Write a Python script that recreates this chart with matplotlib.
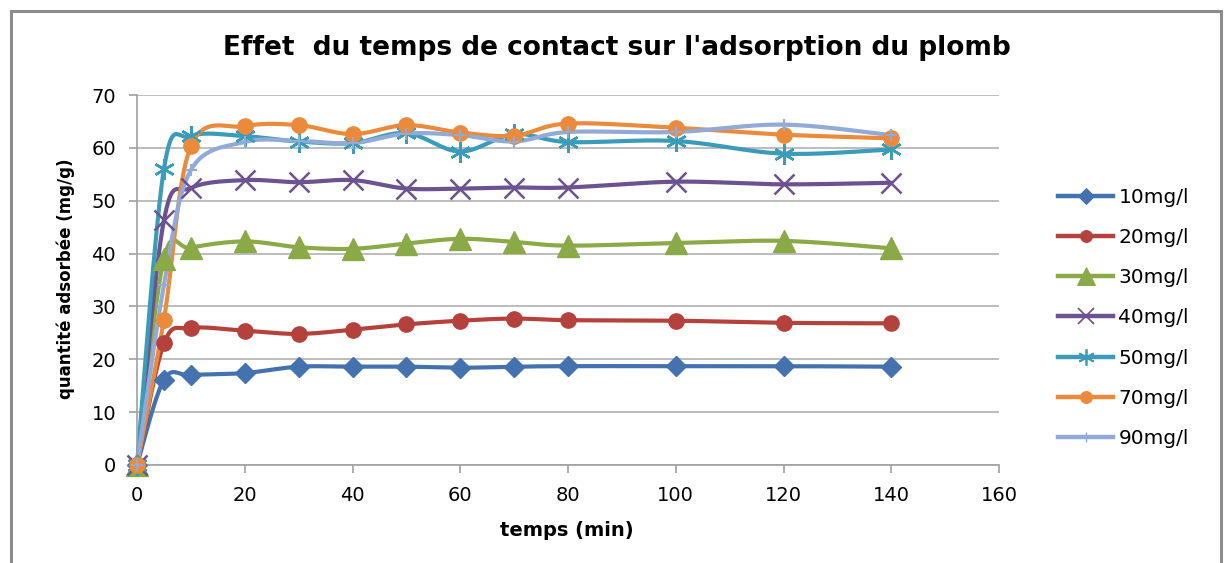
import numpy as np
import matplotlib
matplotlib.use("Agg")
import matplotlib.pyplot as plt
from matplotlib.patches import Rectangle

plt.rcParams['font.family'] = ['DejaVu Sans']

temps = [0, 5, 10, 20, 30, 40, 50, 60, 70, 80, 100, 120, 140]
labels = ["10mg/l", "20mg/l", "30mg/l", "40mg/l", "50mg/l", "70mg/l", "90mg/l"]
q10 = [0, 16.1, 17.0, 17.4, 18.6, 18.6, 18.6, 18.4, 18.6, 18.7, 18.7, 18.7, 18.6]
q20 = [0, 23.0, 25.9, 25.4, 24.8, 25.6, 26.6, 27.3, 27.7, 27.4, 27.3, 26.9, 26.8]
q30 = [0, 39.0, 41.1, 42.3, 41.2, 40.9, 41.9, 42.8, 42.2, 41.5, 42.0, 42.4, 41.0]
q40 = [0, 46.3, 52.4, 53.9, 53.5, 53.9, 52.3, 52.3, 52.5, 52.5, 53.6, 53.1, 53.4]
q50 = [0, 56.0, 62.2, 62.2, 61.2, 60.9, 62.8, 59.3, 62.6, 61.1, 61.3, 58.9, 59.7]
q70 = [0, 27.5, 60.3, 64.1, 64.3, 62.6, 64.3, 62.9, 62.3, 64.6, 63.8, 62.5, 61.8]
q90 = [0, 34.0, 55.8, 61.1, 61.3, 60.9, 62.7, 62.4, 61.2, 63.0, 63.0, 64.4, 62.4]
series = [q10, q20, q30, q40, q50, q70, q90]

colors = ["#4472AE", "#B5413D", "#8AAA48", "#6C528F", "#3A9CB8", "#EB8A3A", "#91AAD6"]
markers = ["D", "o", "^", "x", (6, 2, 0), "o", "+"]
msizes = [10.5, 11, 16, 15, 15, 11, 9]
mew = [1, 1, 1, 1.8, 1.8, 1, 1.5]


def smooth(x, y, n=20):
    x = np.asarray(x, float)
    y = np.asarray(y, float)
    xs, ys = [], []
    for i in range(len(x) - 1):
        x0, y0 = (x[i - 1], y[i - 1]) if i > 0 else (x[i], y[i])
        x1, y1 = x[i], y[i]
        x2, y2 = x[i + 1], y[i + 1]
        x3, y3 = (x[i + 2], y[i + 2]) if i + 2 < len(x) else (x2, y2)
        t = 1 / 6
        c1 = (x1 + (x2 - x0) * t, y1 + (y2 - y0) * t)
        c2 = (x2 - (x3 - x1) * t, y2 - (y3 - y1) * t)
        s = np.linspace(0, 1, n)
        bx = (1 - s) ** 3 * x1 + 3 * (1 - s) ** 2 * s * c1[0] + 3 * (1 - s) * s ** 2 * c2[0] + s ** 3 * x2
        by = (1 - s) ** 3 * y1 + 3 * (1 - s) ** 2 * s * c1[1] + 3 * (1 - s) * s ** 2 * c2[1] + s ** 3 * y2
        xs.extend(bx)
        ys.extend(by)
    return np.array(xs), np.array(ys)


W, H = 1226, 563
fig = plt.figure(figsize=(W / 100, H / 100), dpi=100)
fig.patches.append(Rectangle((11 / W, -0.05), (1221 - 11) / W, 1.05 - 11 / H,
                             transform=fig.transFigure, fill=False, edgecolor="#8c8c8c", lw=2.2))
ax = fig.add_axes([137 / W, (H - 465) / H, (999 - 137) / W, (465 - 95) / H])

for y, lab, c, m, ms, mw in zip(series, labels, colors, markers, msizes, mew):
    sx, sy = smooth(temps, y)
    ax.plot(sx, sy, color=c, lw=3, solid_capstyle="round", zorder=2, clip_on=False)
    ax.plot(temps, y, linestyle="none", marker=m, color=c, ms=ms, mew=mw, zorder=3, clip_on=False)
    ax.plot([], [], color=c, lw=3.2, marker=m, ms=ms * 0.78, mew=mw * 0.7, label=lab)

ax.set_xlim(0, 160)
ax.set_ylim(0, 70)
ax.set_xticks(np.arange(0, 161, 20))
ax.set_yticks(np.arange(0, 71, 10))
ax.yaxis.grid(True, color="#ababab", lw=1.1)
ax.set_axisbelow(True)
for s in ["top", "right"]:
    ax.spines[s].set_visible(False)
for s in ["left", "bottom"]:
    ax.spines[s].set_color("#a0a0a0")
    ax.spines[s].set_linewidth(1.2)
ax.tick_params(axis="both", colors="#a0a0a0", labelcolor="black", labelsize=14,
               length=6, width=1.2, direction="out")
ax.tick_params(axis="y", pad=9)
ax.tick_params(axis="x", pad=9)

fig.text(567 / W, 1 - 530 / H, "temps (min)", ha="center", va="center",
         fontsize=14, fontweight="bold")
fig.text(66 / W, 1 - 279 / H, "quantité adsorbée (mg/g)", ha="center", va="center",
         rotation=90, fontsize=12, fontweight="bold")

fig.text(617 / W, 1 - 48 / H, "Effet  du temps de contact sur l'adsorption du plomb",
         ha="center", va="center", fontsize=19, fontweight="bold")

fig.legend(loc="upper left", bbox_to_anchor=(1050 / W, 1 - 180 / H), frameon=False,
           fontsize=14.5, handlelength=2.75, labelspacing=1.05, handletextpad=0.25,
           borderaxespad=0, borderpad=0.4)

fig.savefig("out.png", dpi=100)
